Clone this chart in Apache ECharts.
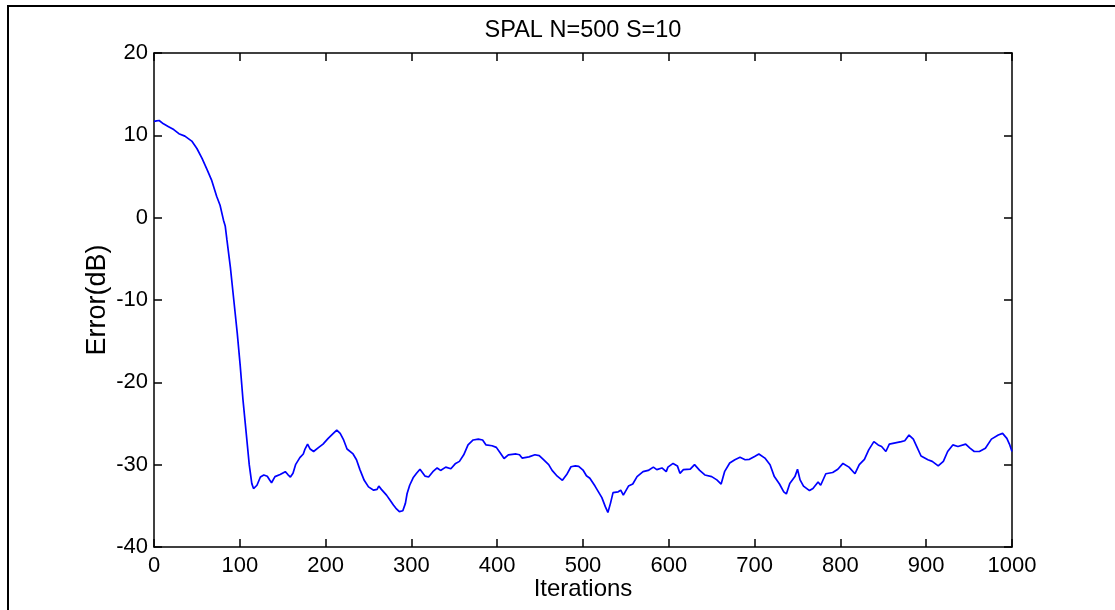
<!DOCTYPE html>
<html>
<head>
<meta charset="utf-8">
<script src="https://cdn.jsdelivr.net/npm/echarts@6/dist/echarts.min.js"></script>
<style>html,body{margin:0;padding:0;background:#fff;}#c{width:1115px;height:610px;}</style>
</head>
<body>
<div id="c"></div>
<script>
const titleText = 'SPAL N=500 S=10';
const xName = 'Iterations';
const yName = 'Error(dB)';
const iterations = [0,3,6,11,17,23,29,36,44,50,56,62,67,73,77,81,83,85,89,93,97,100.5,103.6,107.5,111,114,116,118,120,124,128,132,135,137,141,147,153,156,159,162,165,170,174,176,179,182,186,192,197,203,209,213,217,221,225,232,236,240,245,250,256,260,262,265,271,275,279,282,286,290,293,295,298,302,306,310,316,320,325,330,334,340,346,351,356,361,366,372,378,383,387,394,399,403,408,413,422,426,429,437,444,449,454,460,464,466,470,476,481,486,491,495,500,504,508,514,518,522,526,529,532,535,541,544,547,553,558,563,570,576,582,586,592,597,599,605,610,613,617,625,630,636,642,650,656,661,665,671,677,683,689,694,700,705,712,718,723,729,734,737,741,747,750,753,757,764,768,774,777,783,791,797,803,810,817,822,828,833,839,844,848,853,857,864,871,875,880,885,889,894,902,907,914,920,925,931,937,946,951,956,962,969,976,984,989,994,997,1000];
const errorDb = [11.7,11.75,11.8,11.4,11.05,10.7,10.2,9.9,9.3,8.4,7.2,5.8,4.6,2.6,1.5,-0.3,-1.0,-2.7,-6,-10,-14,-18,-22,-26.2,-30,-32.3,-32.9,-32.8,-32.5,-31.5,-31.25,-31.4,-31.9,-32.2,-31.45,-31.2,-30.85,-31.2,-31.5,-31.05,-30,-29.15,-28.7,-28.1,-27.5,-28.1,-28.4,-27.9,-27.5,-26.8,-26.2,-25.8,-26.2,-27,-28.1,-28.7,-29.4,-30.6,-31.9,-32.7,-33.1,-33,-32.6,-33,-33.7,-34.3,-34.9,-35.3,-35.7,-35.6,-34.7,-33.5,-32.5,-31.6,-31.05,-30.55,-31.4,-31.5,-30.85,-30.4,-30.7,-30.3,-30.5,-29.9,-29.6,-28.8,-27.6,-27.0,-26.9,-27.0,-27.6,-27.7,-27.9,-28.5,-29.25,-28.8,-28.7,-28.8,-29.2,-29.05,-28.8,-28.9,-29.4,-30.0,-30.7,-30.6,-31.4,-31.9,-31.2,-30.25,-30.15,-30.2,-30.65,-31.35,-31.65,-32.6,-33.3,-34,-35.1,-35.8,-34.7,-33.4,-33.3,-33.1,-33.7,-32.6,-32.35,-31.45,-30.85,-30.7,-30.3,-30.6,-30.4,-30.85,-30.3,-29.85,-30.15,-31.05,-30.6,-30.55,-30.0,-30.7,-31.25,-31.45,-31.85,-32.35,-30.85,-29.8,-29.4,-29.1,-29.4,-29.35,-29.0,-28.7,-29.2,-30.0,-31.45,-32.35,-33.3,-33.55,-32.3,-31.45,-30.55,-31.85,-32.6,-33.15,-32.9,-32.1,-32.5,-31.1,-30.95,-30.55,-29.85,-30.3,-31.1,-30.0,-29.35,-28.2,-27.2,-27.6,-27.8,-28.4,-27.5,-27.35,-27.2,-27.1,-26.4,-26.9,-27.8,-28.95,-29.4,-29.6,-30.15,-29.6,-28.4,-27.6,-27.8,-27.5,-28.0,-28.4,-28.4,-28.0,-26.9,-26.4,-26.2,-26.8,-27.5,-28.4];
const xTicks = {min: 0, max: 1000, interval: 100};
const yTicks = {min: -40, max: 20, interval: 10};

const FONT = '"Liberation Sans", Arial, sans-serif';
const points = iterations.map((x, i) => [x, errorDb[i]]);
const axisLineStyle = {color: '#000', width: 1.5};
const chart = echarts.init(document.getElementById('c'), null, {renderer: 'canvas'});
chart.setOption({
  backgroundColor: '#fff',
  animation: false,
  title: {
    text: titleText, left: 578, top: 14, textAlign: 'center',
    textStyle: {fontFamily: FONT, fontSize: 23.5, fontWeight: 'normal', color: '#000'}
  },
  graphic: [{
    type: 'rect', silent: true,
    shape: {x: 8, y: 6, width: 1200, height: 700},
    style: {fill: 'none', stroke: '#000', lineWidth: 2}
  }],
  grid: {left: 154, top: 53, right: 103, bottom: 63, containLabel: false},
  xAxis: [{
    type: 'value', min: xTicks.min, max: xTicks.max, interval: xTicks.interval,
    name: xName, nameLocation: 'middle', nameGap: 30, nameMoveOverlap: false,
    nameTextStyle: {fontFamily: FONT, fontSize: 24, color: '#000'},
    axisLine: {show: true, onZero: false, lineStyle: axisLineStyle},
    axisTick: {show: true, inside: true, length: 8, lineStyle: axisLineStyle},
    axisLabel: {fontFamily: FONT, fontSize: 22, color: '#000', margin: 8, formatter: v => String(v)},
    splitLine: {show: false}
  }, {
    type: 'value', position: 'top', min: xTicks.min, max: xTicks.max, interval: xTicks.interval,
    axisLine: {show: true, onZero: false, lineStyle: axisLineStyle},
    axisTick: {show: true, inside: true, length: 8, lineStyle: axisLineStyle},
    axisLabel: {show: false}, splitLine: {show: false}
  }],
  yAxis: [{
    type: 'value', min: yTicks.min, max: yTicks.max, interval: yTicks.interval,
    name: yName, nameLocation: 'middle', nameGap: 43, nameRotate: 90, nameMoveOverlap: false,
    nameTextStyle: {fontFamily: FONT, fontSize: 27, color: '#000'},
    axisLine: {show: true, onZero: false, lineStyle: axisLineStyle},
    axisTick: {show: true, inside: true, length: 8, lineStyle: axisLineStyle},
    axisLabel: {fontFamily: FONT, fontSize: 22, color: '#000', margin: 6},
    splitLine: {show: false}
  }, {
    type: 'value', position: 'right', min: yTicks.min, max: yTicks.max, interval: yTicks.interval,
    axisLine: {show: true, onZero: false, lineStyle: axisLineStyle},
    axisTick: {show: true, inside: true, length: 8, lineStyle: axisLineStyle},
    axisLabel: {show: false}, splitLine: {show: false}
  }],
  series: [{
    type: 'line', data: points, xAxisIndex: 0, yAxisIndex: 0,
    showSymbol: false, symbol: 'none', smooth: false,
    lineStyle: {color: '#0000ff', width: 1.7}
  }]
});
</script>
</body>
</html>
